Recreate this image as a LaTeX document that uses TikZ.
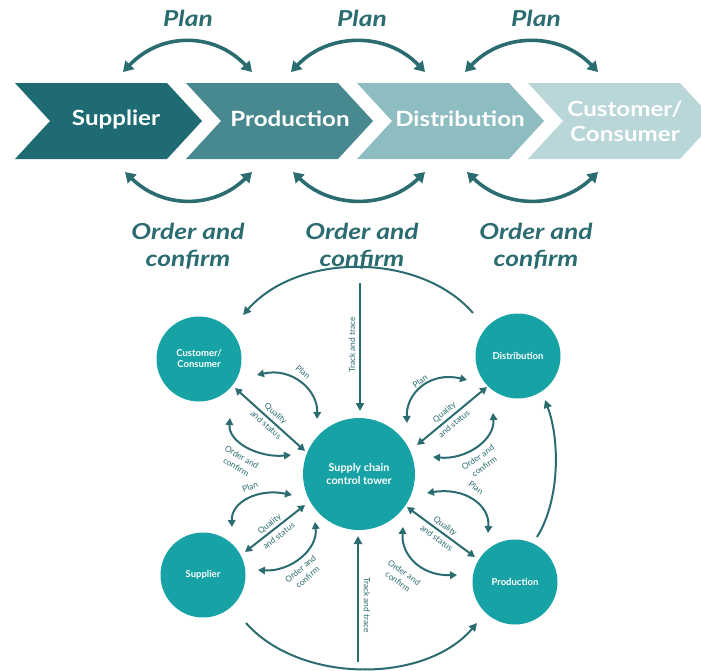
\documentclass[tikz,border=0pt]{standalone}
\usepackage{fontspec}
\setmainfont{Lato}
\usetikzlibrary{arrows.meta,calc}

\definecolor{ink}{HTML}{2B6C71}
\definecolor{teal}{HTML}{17A3A6}
\definecolor{chevA}{HTML}{1F6B73}
\definecolor{chevB}{HTML}{47898F}
\definecolor{chevC}{HTML}{8DBDC1}
\definecolor{chevD}{HTML}{B9D6D8}

\tikzset{
  bigflow/.style={draw=ink, line width=3.6pt, {Triangle[length=10pt,width=12pt]}-{Triangle[length=10pt,width=12pt]}},
  chevtext/.style={text=white, font=\fontsize{21}{25}\selectfont\bfseries\addfontfeature{FakeStretch=1.15}, align=center},
  flowlabel/.style={text=ink, font=\fontsize{22}{27}\selectfont\bfseries\itshape\addfontfeature{FakeStretch=1.2}, align=center},
  hub/.style={circle, fill=teal, text=white, align=center, inner sep=0pt},
  sat/.style={hub, minimum size=85pt, font=\fontsize{9.5}{11}\selectfont\bfseries},
  link/.style={draw=ink, line width=2pt},
  twoway/.style={link, {Triangle[length=7pt,width=7.5pt]}-{Triangle[length=7pt,width=7.5pt]}},
  oneway/.style={link, -{Triangle[length=8pt,width=8pt]}},
  tag/.style={text=ink, font=\fontsize{8.4}{11}\selectfont, align=center, inner sep=0pt},
  widetag/.style={tag, font=\fontsize{8.4}{15}\selectfont},
}

\begin{document}
\begin{tikzpicture}[x=1pt, y=-1pt]
\useasboundingbox (0,0) rectangle (701,670);

% ---------- value chain chevrons ----------
\begin{scope}
\clip (0,0) rectangle (701,670);
\foreach \L/\col in {15/chevA, 186/chevB, 357/chevC, 528/chevD}{
  \fill[\col] (\L,83) -- (\L+152,83) -- (\L+187,121) -- (\L+152,159)
              -- (\L,159) -- (\L+35,121) -- cycle;
}
\end{scope}
\node[chevtext] (sup)  at (116,119) {Supplier};
\node[chevtext] (prod) at (290,119) {Production};
\node[chevtext] (dist) at (460,119) {Distribution};
\node[chevtext] (cust) at (625,121) {Customer/\\Consumer};

% ---------- plan arcs above, order arcs below ----------
\foreach \a/\b/\n in {123/252/1, 291/425/2, 465/598/3}{
  \coordinate (pl\n) at (\a,72);
  \coordinate (pr\n) at (\b,72);
  \coordinate (ol\n) at (\a+2,172);
  \coordinate (or\n) at (\b,172);
}
\foreach \n in {1,2,3}{
  \draw[bigflow] (pl\n) .. controls ($(pl\n)+(38,-40)$) and ($(pr\n)+(-38,-40)$) .. (pr\n);
  \draw[bigflow] (ol\n) .. controls ($(ol\n)+(38,37)$) and ($(or\n)+(-38,37)$) .. (or\n);
}
\foreach \x/\n in {188/1, 362/2, 536/3}{
  \node[flowlabel] (plan\n) at (\x,18) {Plan};
  \node[flowlabel] (order\n) at (\x,246) {Order and\\confirm};
}

% ---------- control tower network ----------
\node[hub, minimum size=112pt, font=\fontsize{10.8}{12.5}\selectfont\bfseries] (tower) at (359,474)
  {Supply chain\\control tower};
\node[sat] (ccust) at (199,359) {Customer/\\Consumer};
\node[sat] (cdist) at (518,356) {Distribution};
\node[sat] (csup)  at (203,575) {Supplier};
\node[sat] (cprod) at (515,582) {Production};

% outer flow loop
\coordinate (topA) at (473,313);  \coordinate (topB) at (243,315);
\coordinate (rgtA) at (537,537);  \coordinate (rgtB) at (545,400);
\coordinate (botA) at (246,623);  \coordinate (botB) at (477,623);
\draw[oneway] (topA) .. controls (420,252) and (298,252) .. (topB);
\draw[oneway] (rgtA) .. controls (560,500) and (560,440) .. (rgtB);
\draw[oneway] (botA) .. controls (300,684) and (425,684) .. (botB);

% track and trace
\coordinate (ttTop) at (360,283);  \coordinate (ttTopEnd) at (360,411);
\coordinate (ttBot) at (358,662);  \coordinate (ttBotEnd) at (358,536);
\draw[oneway] (ttTop) -- (ttTopEnd);
\draw[oneway] (ttBot) -- (ttBotEnd);
\node[tag, rotate=90]  (tt1) at (352,345) {Track and trace};
\node[tag, rotate=-90] (tt2) at (367,605) {Track and trace};

% customer / consumer links
\coordinate (c1) at (257,375); \coordinate (c2) at (317,419);
\coordinate (c3) at (235,388); \coordinate (c4) at (305,451);
\coordinate (c5) at (230,418); \coordinate (c6) at (291,455);
\draw[twoway] (c1) .. controls (292,367) and (318,390) .. (c2);
\draw[twoway] (c3) -- (c4);
\draw[twoway] (c5) .. controls (228,442) and (258,458) .. (c6);
\node[tag, rotate=-40] (cl1) at (303,372) {Plan};
\node[widetag, rotate=-42] (cl2) at (271,419) {Quality\\and status};
\node[tag, rotate=-30] (cl3) at (239,462) {Order and\\confirm};

% distribution links
\coordinate (d1) at (467,380); \coordinate (d2) at (407,423);
\coordinate (d3) at (487,387); \coordinate (d4) at (417,445);
\coordinate (d5) at (493,413); \coordinate (d6) at (433,457);
\draw[twoway] (d1) .. controls (430,371) and (406,393) .. (d2);
\draw[twoway] (d3) -- (d4);
\draw[twoway] (d5) .. controls (495,440) and (466,460) .. (d6);
\node[tag, rotate=35] (dl1) at (420,381) {Plan};
\node[widetag, rotate=40] (dl2) at (449,418) {Quality\\and status};
\node[tag, rotate=35] (dl3) at (481,462) {Order and\\confirm};

% supplier links
\coordinate (s1) at (292,495); \coordinate (s2) at (232,527);
\coordinate (s3) at (305,505); \coordinate (s4) at (245,552);
\coordinate (s5) at (315,522); \coordinate (s6) at (258,570);
\draw[twoway] (s1) .. controls (258,488) and (231,502) .. (s2);
\draw[twoway] (s3) -- (s4);
\draw[twoway] (s5) .. controls (318,550) and (290,572) .. (s6);
\node[tag, rotate=20] (sl1) at (250,487) {Plan};
\node[widetag, rotate=38] (sl2) at (274,530) {Quality\\and status};
\node[tag, rotate=40] (sl3) at (304,573) {Order and\\confirm};

% production links
\coordinate (p1) at (427,493); \coordinate (p2) at (488,533);
\coordinate (p3) at (407,507); \coordinate (p4) at (475,557);
\coordinate (p5) at (403,527); \coordinate (p6) at (457,575);
\draw[twoway] (p1) .. controls (465,487) and (490,505) .. (p2);
\draw[twoway] (p3) -- (p4);
\draw[twoway] (p5) .. controls (401,555) and (421,576) .. (p6);
\node[tag, rotate=-35] (pl1) at (476,488) {Plan};
\node[widetag, rotate=-36] (pl2) at (441,532) {Quality\\and status};
\node[tag, rotate=-35] (pl3) at (401,577) {Order and\\confirm};
\end{tikzpicture}
\end{document}
